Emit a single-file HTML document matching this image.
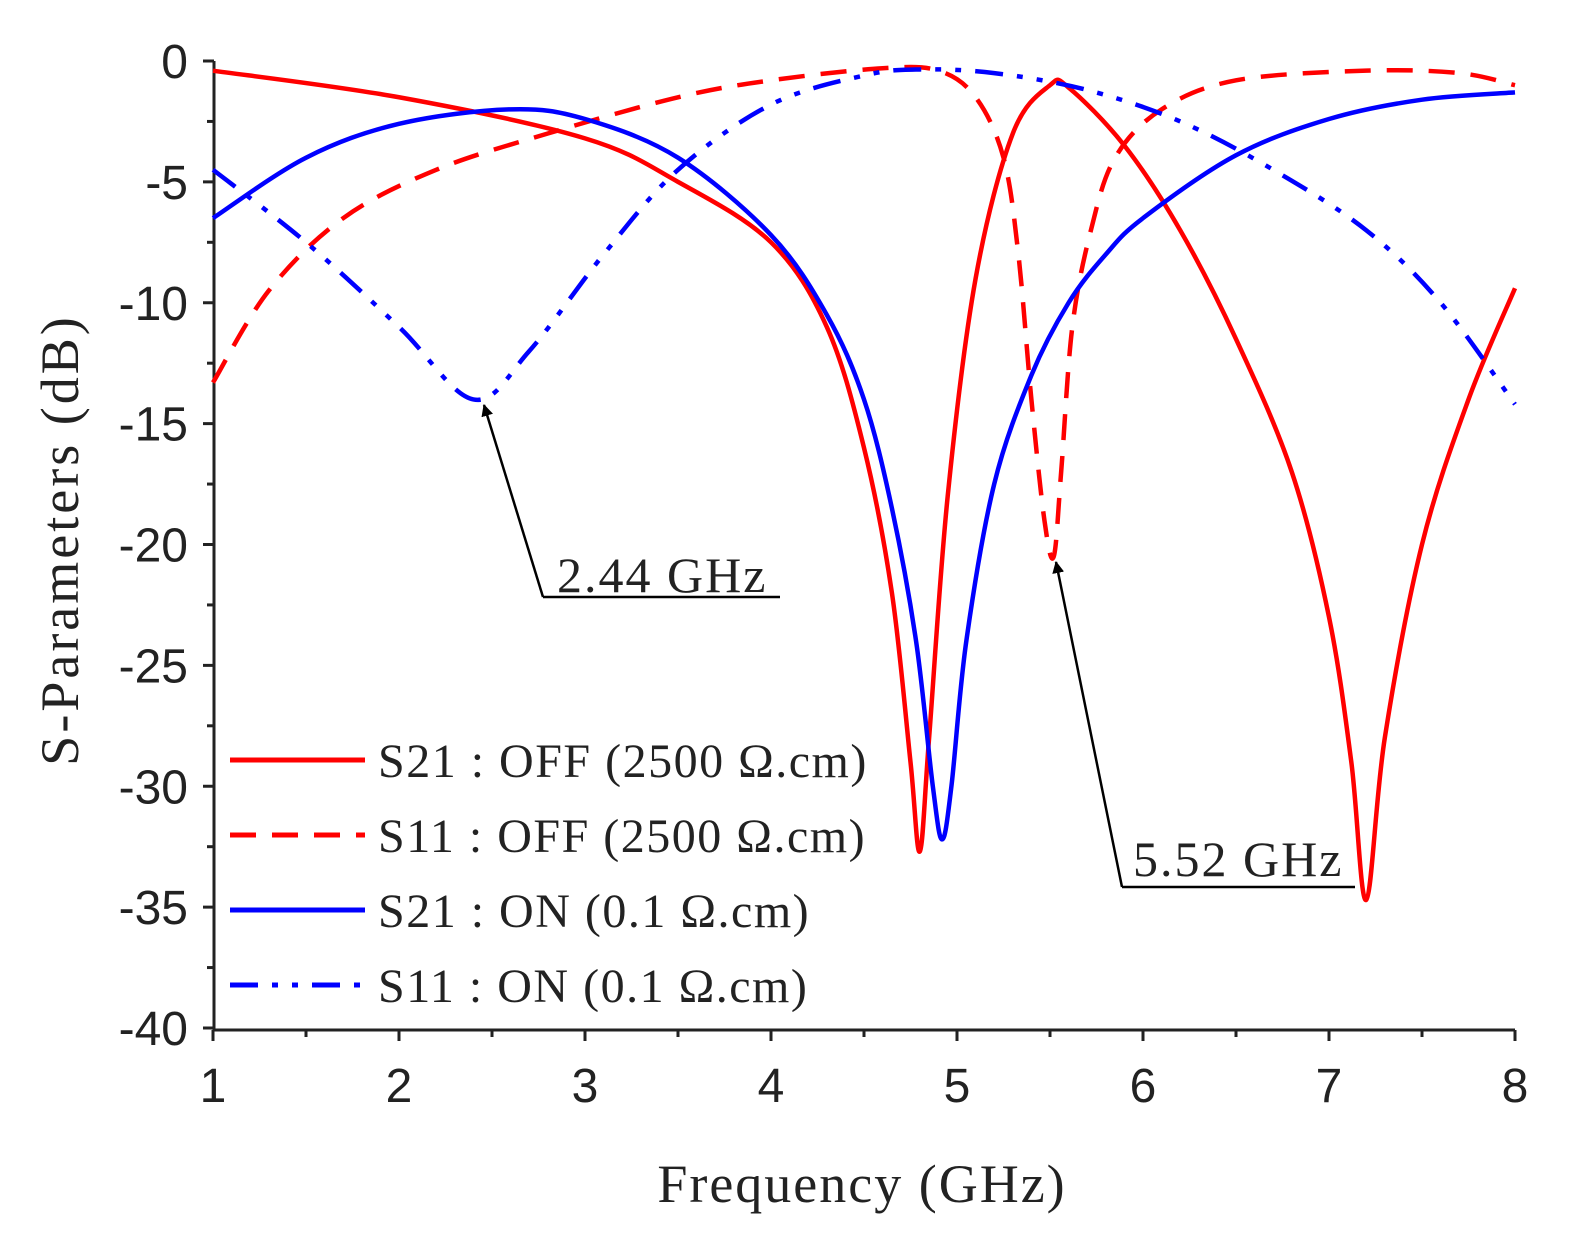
<!DOCTYPE html>
<html><head><meta charset="utf-8"><style>
body{margin:0;background:#fff}
text{font-family:"Liberation Sans",sans-serif}
.s{font-family:"Liberation Serif",serif}
</style></head><body>
<svg id="g" width="1577" height="1250" xmlns="http://www.w3.org/2000/svg">
<defs><marker id="ah" markerWidth="12" markerHeight="12" refX="11" refY="6" orient="auto" markerUnits="userSpaceOnUse" viewBox="0 0 12 12"><path d="M0,0 L12,6 L0,12 z" fill="#000"/></marker></defs>
<g id="ax" stroke="#222" stroke-width="3" fill="none"></g>
<g id="lb" font-size="48" fill="#222"></g>
<g id="cv" fill="none" stroke-width="4.5"></g>
<text class="s" x="862" y="1202" font-size="54" letter-spacing="2" text-anchor="middle" fill="#222">Frequency (GHz)</text>
<text class="s" transform="translate(78,540) rotate(-90)" font-size="54" letter-spacing="3" text-anchor="middle" fill="#222">S-Parameters (dB)</text>
<g stroke="#000" stroke-width="2.5">
<line x1="543" y1="597" x2="780" y2="597"/><line x1="543" y1="597" x2="484" y2="405" marker-end="url(#ah)"/>
<line x1="1122" y1="887" x2="1355" y2="887"/><line x1="1122" y1="887" x2="1056" y2="562" marker-end="url(#ah)"/>
</g>
<text class="s" x="557" y="592" font-size="50" letter-spacing="2" fill="#222">2.44 GHz</text>
<text class="s" x="1133" y="876" font-size="50" letter-spacing="2" fill="#222">5.52 GHz</text>
<g stroke-width="5">
<line x1="230" y1="760" x2="365" y2="760" stroke="#f00"/>
<line x1="230" y1="835" x2="365" y2="835" stroke="#f00" stroke-dasharray="26,16"/>
<line x1="230" y1="910" x2="365" y2="910" stroke="#00f"/>
<line x1="230" y1="985" x2="365" y2="985" stroke="#00f" stroke-dasharray="28,14,6,14,6,14"/>
</g>
<g font-size="48" fill="#222" letter-spacing="1.5">
<text class="s" x="378" y="777">S21 : OFF (2500 Ω.cm)</text>
<text class="s" x="378" y="852">S11 : OFF (2500 Ω.cm)</text>
<text class="s" x="378" y="927">S21 : ON (0.1 Ω.cm)</text>
<text class="s" x="378" y="1002">S11 : ON (0.1 Ω.cm)</text>
</g>
</svg>
<script>
const X=f=>213+186*(f-1),Y=d=>61-24.175*d,NS="http://www.w3.org/2000/svg";
function el(p,t,a,txt){const e=document.createElementNS(NS,t);for(const k in a)e.setAttribute(k,a[k]);if(txt!=null)e.textContent=txt;document.getElementById(p).appendChild(e);}
el('ax','path',{d:`M214,61 V1030 H1515`});
for(let i=0;i<=16;i++){const y=Y(-i*2.5);el('ax','line',{x1:214,x2:i%2?207:203,y1:y,y2:y});}
for(let i=0;i<=14;i++){const x=X(1+i*0.5);el('ax','line',{x1:x,x2:x,y1:1030,y2:i%2?1037:1041});}
for(let i=0;i<=8;i++)el('lb','text',{x:188,y:Y(-i*5)+17,'text-anchor':'end'},i?'-'+i*5:'0');
for(let i=1;i<=8;i++)el('lb','text',{x:X(i),y:1102,'text-anchor':'middle'},i);
function path(pts){const P=pts.map(p=>[X(p[0]),Y(p[1])]);let d=`M${P[0]}`;
for(let i=0;i<P.length-1;i++){const p0=P[i-1]||P[i],p1=P[i],p2=P[i+1],p3=P[i+2]||p2;
d+=`C${p1[0]+(p2[0]-p0[0])/6},${p1[1]+(p2[1]-p0[1])/6} ${p2[0]-(p3[0]-p1[0])/6},${p2[1]-(p3[1]-p1[1])/6} ${p2}`;}return d;}
const C=[
["#f00","",[[1,-0.4],[2,-1.5],[3,-3.2],[3.5,-5],[4,-7.5],[4.3,-11],[4.5,-16],[4.65,-22],[4.75,-29],[4.8,-32.7],[4.85,-28],[4.95,-18],[5.1,-9],[5.3,-3],[5.5,-1],[5.6,-1.1],[5.9,-3.5],[6.2,-7],[6.5,-11.5],[6.8,-17],[7.0,-23],[7.12,-29],[7.2,-34.7],[7.3,-28],[7.5,-20],[7.75,-14],[8,-9.4]]],
["#f00","26,16",[[1,-13.3],[1.3,-9.5],[1.7,-6.5],[2.2,-4.5],[2.8,-3],[3.5,-1.5],[4,-0.8],[4.6,-0.3],[4.9,-0.4],[5.1,-1.5],[5.25,-4],[5.33,-8],[5.4,-14],[5.47,-19],[5.52,-20.5],[5.56,-17],[5.62,-11],[5.72,-7],[5.85,-4],[6.1,-2],[6.5,-0.8],[7.2,-0.4],[7.7,-0.5],[8,-1]]],
["#00f","",[[1,-6.5],[1.5,-4],[2,-2.6],[2.6,-2],[3,-2.4],[3.5,-4],[4,-7.2],[4.3,-10.5],[4.5,-14],[4.65,-18.5],[4.78,-24],[4.87,-30],[4.92,-32.2],[4.97,-30],[5.05,-24],[5.2,-17.5],[5.4,-13],[5.6,-10],[5.8,-8],[6.0,-6.5],[6.5,-3.9],[7,-2.4],[7.5,-1.6],[8,-1.3]]],
["#00f","28,14,6,14,6,14",[[1,-4.5],[1.5,-7.5],[2,-11],[2.4,-14],[2.7,-12],[3.1,-8],[3.5,-4.5],[4,-1.8],[4.5,-0.6],[4.8,-0.35],[5.2,-0.5],[5.7,-1.2],[6.2,-2.5],[6.7,-4.5],[7.2,-7],[7.6,-10],[8,-14.2]]]];
for(const [c,da,p] of C){const a={d:path(p),stroke:c};if(da)a['stroke-dasharray']=da;el('cv','path',a);}
</script>
</body></html>
